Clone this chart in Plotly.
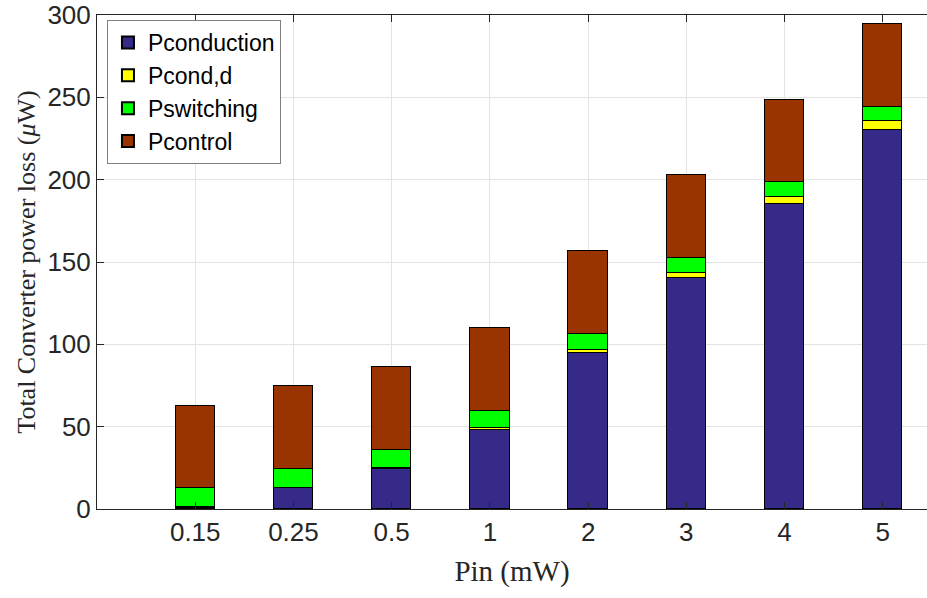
import plotly.graph_objects as go

categories = ["0.15", "0.25", "0.5", "1", "2", "3", "4", "5"]
p_conduction = [0.8, 12.5, 24.5, 48.0, 94.5, 140.0, 185.0, 230.0]
p_cond_d = [0.2, 0.2, 0.3, 0.9, 2.3, 3.4, 4.5, 5.7]
p_switching = [11.7, 11.4, 11.2, 10.7, 9.7, 9.1, 8.9, 8.7]
p_control = [50.1, 50.3, 50.0, 50.4, 50.3, 50.3, 50.1, 50.1]
y_ticks = [0, 50, 100, 150, 200, 250, 300]

xpos = list(range(1, len(categories) + 1))

series = [
    ("Pconduction", p_conduction, "rgb(53,42,135)"),
    ("Pcond,d", p_cond_d, "rgb(255,255,0)"),
    ("Pswitching", p_switching, "rgb(0,255,0)"),
    ("Pcontrol", p_control, "rgb(153,51,0)"),
]

fig = go.Figure()
for name, vals, col in series:
    fig.add_trace(go.Bar(
        x=xpos, y=vals, name=name, width=0.4,
        marker=dict(color=col, line=dict(color="black", width=1)),
    ))

fig.update_layout(
    barmode="stack",
    width=927, height=598,
    margin=dict(l=97, r=0, t=15, b=89),
    plot_bgcolor="white", paper_bgcolor="white",
    font=dict(family="Liberation Sans, Arial, sans-serif", size=26, color="#262626"),
    showlegend=True,
    legend=dict(
        x=0.012, y=0.99, xanchor="left", yanchor="top",
        bgcolor="white", bordercolor="#7f7f7f", borderwidth=1,
        font=dict(family="Liberation Sans, Arial, sans-serif", size=23, color="black"),
        tracegroupgap=0, itemsizing="constant", itemwidth=30,
        traceorder="normal",
    ),
    bargap=0,
)
fig.update_xaxes(
    range=[0, 8.45], tickmode="array", tickvals=xpos, ticktext=categories,
    showgrid=True, gridcolor="#e3e3e3", gridwidth=1,
    showline=True, linecolor="#262626", linewidth=1, mirror="allticks",
    ticks="inside", ticklen=7, tickcolor="#262626", automargin=False,
    ticklabeloverflow="allow",
    title=dict(text="Pin (mW)", font=dict(family="Liberation Serif, Times New Roman, serif", size=29, color="#262626"), standoff=14),
    zeroline=False,
)
fig.update_yaxes(
    range=[0, 300], tickmode="array", tickvals=y_ticks,
    showgrid=True, gridcolor="#e3e3e3", gridwidth=1,
    showline=True, linecolor="#262626", linewidth=1,
    ticks="inside", ticklen=7, tickcolor="#262626", automargin=False,
    ticklabeloverflow="allow",
    title=dict(text="Total Converter power loss (<i>μ</i>W)", font=dict(family="Liberation Serif, Times New Roman, serif", size=26, color="#262626"), standoff=4),
    zeroline=False,
)

fig.write_html("out.html", config={"displayModeBar": False},
               post_script="document.body.style.margin='0';")
